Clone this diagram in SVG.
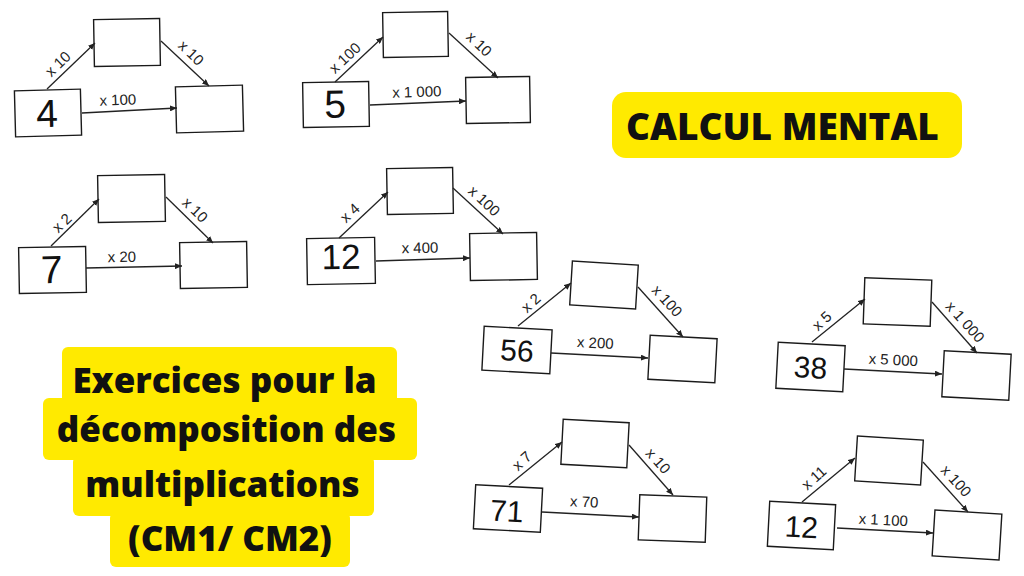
<svg xmlns="http://www.w3.org/2000/svg" width="1024" height="576" viewBox="0 0 1024 576">
<defs>
<style>
.box{fill:#fff;stroke:#1a1a1a;stroke-width:1.4}
.num{font-family:"Liberation Sans",Arial,sans-serif;fill:#111;text-anchor:middle}
.n1{font-size:39px}.n2{font-size:35px}.n3{font-size:30px}
.lbl{font-family:"Liberation Sans",Arial,sans-serif;font-size:15px;fill:#222;text-anchor:middle}
.arr{stroke:#222;stroke-width:1.3;fill:none;marker-end:url(#ah)}
.yel{fill:#FFEA00}
.title{font-family:"Open Sans","Liberation Sans",sans-serif;font-weight:800;fill:#111;text-anchor:middle}
</style>
<marker id="ah" markerUnits="userSpaceOnUse" markerWidth="8" markerHeight="6" refX="7" refY="3" orient="auto">
<path d="M0,0 L7,3 L0,6 z" fill="#222"/>
</marker>
</defs>
<rect width="1024" height="576" fill="#fff"/>

<!-- Title boxes -->
<g id="title-calcul">
<rect class="yel" x="612" y="92" width="350" height="66" rx="14"/>
<text class="title" x="782.5" y="140" font-size="37">CALCUL MENTAL</text>
</g>
<g id="title-exercices">
<rect class="yel" x="62" y="347" width="335" height="58" rx="6"/>
<rect class="yel" x="43" y="398" width="374" height="62" rx="6"/>
<rect class="yel" x="73" y="456" width="301" height="60" rx="6"/>
<rect class="yel" x="110" y="512" width="240" height="55" rx="6"/>
<text class="title" font-size="35">
<tspan x="229" y="393">Exercices pour la</tspan>
<tspan x="231" y="442">décomposition des</tspan>
<tspan x="227" y="497">multiplications </tspan>
<tspan x="230" y="551">(CM1/ CM2)</tspan>
</text>
</g>

<!-- Cluster 1 -->
<g id="c1-start" transform="translate(48 113) rotate(-1.5)"><rect class="box" x="-33" y="-23" width="66" height="46"/><text class="num n1" x="-1" y="14">4</text></g>
<g id="c1-mid" transform="translate(127 42.5) rotate(-1)"><rect class="box" x="-33" y="-23.5" width="66" height="47"/></g>
<g id="c1-end" transform="translate(209.5 109) rotate(-1.5)"><rect class="box" x="-33.5" y="-23" width="67" height="46"/></g>

<!-- Cluster 2 -->
<g id="c2-start" transform="translate(336 104.5) rotate(-1)"><rect class="box" x="-33" y="-22.5" width="66" height="45"/><text class="num n1" x="-1" y="13" font-size="37">5</text></g>
<g id="c2-mid" transform="translate(415.5 34.5) rotate(-1)"><rect class="box" x="-32.5" y="-22.5" width="65" height="45"/></g>
<g id="c2-end" transform="translate(498 100) rotate(-1)"><rect class="box" x="-32" y="-23" width="64" height="46"/></g>

<!-- Cluster 3 -->
<g id="c3-start" transform="translate(52.5 270) rotate(-1)"><rect class="box" x="-33.5" y="-23" width="67" height="46"/><text class="num n1" x="-1" y="13">7</text></g>
<g id="c3-mid" transform="translate(131.5 198.5) rotate(-1)"><rect class="box" x="-33.5" y="-23.5" width="67" height="47"/></g>
<g id="c3-end" transform="translate(213.5 265) rotate(-1)"><rect class="box" x="-33.5" y="-23" width="67" height="46"/></g>

<!-- Cluster 4 -->
<g id="c4-start" transform="translate(341 261) rotate(-1)"><rect class="box" x="-34" y="-23" width="68" height="46"/><text class="num n2" x="0" y="8">12</text></g>
<g id="c4-mid" transform="translate(420 191) rotate(-1)"><rect class="box" x="-33" y="-23" width="66" height="46"/></g>
<g id="c4-end" transform="translate(503.5 256.5) rotate(-1)"><rect class="box" x="-33.5" y="-23.5" width="67" height="47"/></g>

<!-- Cluster 5 -->
<g id="c5-start" transform="translate(517 350) rotate(3)"><rect class="box" x="-34" y="-22" width="68" height="44"/><text class="num n3" x="0" y="11">56</text></g>
<g id="c5-mid" transform="translate(604 285) rotate(3.5)"><rect class="box" x="-33" y="-22" width="66" height="44"/></g>
<g id="c5-end" transform="translate(682.5 359) rotate(3)"><rect class="box" x="-33.5" y="-22" width="67" height="44"/></g>

<!-- Cluster 6 -->
<g id="c6-start" transform="translate(810.5 367) rotate(3)"><rect class="box" x="-33.5" y="-23" width="67" height="46"/><text class="num n3" x="0" y="11">38</text></g>
<g id="c6-mid" transform="translate(897.5 302) rotate(2)"><rect class="box" x="-33.5" y="-23" width="67" height="46"/></g>
<g id="c6-end" transform="translate(976.5 375.5) rotate(3)"><rect class="box" x="-33.5" y="-23" width="67" height="46"/></g>

<!-- Cluster 7 -->
<g id="c7-start" transform="translate(508 508.5) rotate(3)"><rect class="box" x="-33.5" y="-22" width="67" height="44"/><text class="num n3" x="-1" y="13">71</text></g>
<g id="c7-mid" transform="translate(595 443.5) rotate(3)"><rect class="box" x="-33" y="-22.5" width="66" height="45"/></g>
<g id="c7-end" transform="translate(672.5 518.5) rotate(2)"><rect class="box" x="-33.5" y="-22.5" width="67" height="45"/></g>

<!-- Cluster 8 -->
<g id="c8-start" transform="translate(801.5 525.5) rotate(3)"><rect class="box" x="-33" y="-22.5" width="66" height="45"/><text class="num n3" x="0" y="12">12</text></g>
<g id="c8-mid" transform="translate(889 460.5) rotate(3.5)"><rect class="box" x="-33" y="-22.5" width="66" height="45"/></g>
<g id="c8-end" transform="translate(967 535) rotate(3.5)"><rect class="box" x="-33.5" y="-23" width="67" height="46"/></g>

<!-- Connectors -->
<g id="connectors">
<line class="arr" x1="47" y1="89" x2="95" y2="43"/>
<line class="arr" x1="161" y1="41" x2="209" y2="86"/>
<line class="arr" x1="82" y1="113" x2="177" y2="108"/>
<text class="lbl" transform="translate(58 64) rotate(-44)" y="5">x 10</text>
<text class="lbl" transform="translate(191 53) rotate(44)" y="5">x 10</text>
<text class="lbl" transform="translate(118 105) rotate(-2)">x 100</text>

<line class="arr" x1="335" y1="82" x2="383" y2="37"/>
<line class="arr" x1="449" y1="33" x2="498" y2="78"/>
<line class="arr" x1="370" y1="105" x2="466" y2="101"/>
<text class="lbl" transform="translate(345 58) rotate(-43)" y="5">x 100</text>
<text class="lbl" transform="translate(479 44) rotate(43)" y="5">x 10</text>
<text class="lbl" transform="translate(417 97) rotate(-2)">x 1 000</text>

<line class="arr" x1="51" y1="246" x2="99" y2="199"/>
<line class="arr" x1="166" y1="197" x2="213" y2="243"/>
<line class="arr" x1="86" y1="268" x2="182" y2="266"/>
<text class="lbl" transform="translate(62 223) rotate(-44)" y="5">x 2</text>
<text class="lbl" transform="translate(195 210) rotate(44)" y="5">x 10</text>
<text class="lbl" transform="translate(122 262) rotate(-1)">x 20</text>

<line class="arr" x1="339" y1="238" x2="388" y2="192"/>
<line class="arr" x1="453" y1="188" x2="503" y2="234"/>
<line class="arr" x1="376" y1="261" x2="470" y2="258"/>
<text class="lbl" transform="translate(350 213) rotate(-43)" y="5">x 4</text>
<text class="lbl" transform="translate(484 201) rotate(43)" y="5">x 100</text>
<text class="lbl" transform="translate(420 253) rotate(-1)">x 400</text>

<line class="arr" x1="518" y1="326" x2="571" y2="283"/>
<line class="arr" x1="638" y1="287" x2="683" y2="337"/>
<line class="arr" x1="551" y1="353" x2="648" y2="358"/>
<text class="lbl" transform="translate(531 303) rotate(-42)" y="5">x 2</text>
<text class="lbl" transform="translate(667 301) rotate(48)" y="5">x 100</text>
<text class="lbl" transform="translate(595 348) rotate(3)">x 200</text>

<line class="arr" x1="812" y1="342" x2="865" y2="299"/>
<line class="arr" x1="932" y1="302" x2="977" y2="353"/>
<line class="arr" x1="844" y1="369" x2="942" y2="374"/>
<text class="lbl" transform="translate(822 321) rotate(-42)" y="5">x 5</text>
<text class="lbl" transform="translate(965 322) rotate(48)" y="5">x 1 000</text>
<text class="lbl" transform="translate(893 365) rotate(3)">x 5 000</text>

<line class="arr" x1="509" y1="485" x2="562" y2="442"/>
<line class="arr" x1="629" y1="445" x2="673" y2="495"/>
<line class="arr" x1="542" y1="512" x2="639" y2="517"/>
<text class="lbl" transform="translate(522 461) rotate(-42)" y="5">x 7</text>
<text class="lbl" transform="translate(658 461) rotate(48)" y="5">x 10</text>
<text class="lbl" transform="translate(584 507) rotate(3)">x 70</text>

<line class="arr" x1="802" y1="502" x2="855" y2="458"/>
<line class="arr" x1="923" y1="462" x2="968" y2="512"/>
<line class="arr" x1="837" y1="528" x2="933" y2="533"/>
<text class="lbl" transform="translate(814 478) rotate(-42)" y="5">x 11</text>
<text class="lbl" transform="translate(956 481) rotate(48)" y="5">x 100</text>
<text class="lbl" transform="translate(883 525) rotate(3)">x 1 100</text>
</g>
</svg>
